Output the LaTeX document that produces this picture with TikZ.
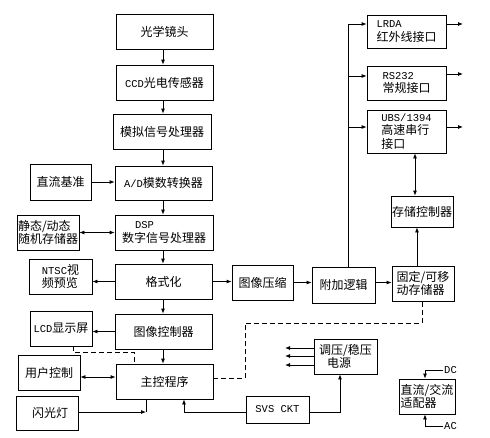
\documentclass[tikz,border=0pt]{standalone}
\usepackage{fontspec}
\setmainfont{Noto Sans CJK SC}
\newfontfamily\latfont{Liberation Mono}
\newcommand\mylat[1]{{\latfont\fontsize{10.5}{13.5}\selectfont #1}}
\usetikzlibrary{arrows.meta}
\begin{document}
\begin{tikzpicture}[x=1pt,y=-1pt,
  box/.style={draw, line width=0.8pt, inner sep=1pt, font=\fontsize{12}{13.5}\selectfont, align=center},
  lbox/.style={box, align=left},
  arr/.style={line width=0.8pt, -{Latex[length=5pt,width=4pt]}},
  biarr/.style={line width=0.8pt, {Latex[length=5pt,width=4pt]}-{Latex[length=5pt,width=4pt]}},
  ln/.style={line width=0.8pt},
  dsh/.style={line width=0.8pt, dash pattern=on 5pt off 3pt},
  lbl/.style={inner sep=1pt, font=\fontsize{10.5}{12}\selectfont\latfont}]
\useasboundingbox (0,0) rectangle (490,437);
% column nodes
\node[box, minimum width=97pt, minimum height=35pt] (lens) at (164.5,31.5) {光学镜头};
\node[box, minimum width=97pt, minimum height=35pt] (ccd) at (164.5,82.5) {\mylat{CCD}光电传感器};
\node[box, minimum width=98pt, minimum height=35pt] (analog) at (162,131.5) {模拟信号处理器};
\node[box, minimum width=61pt, minimum height=36pt] (dcref) at (60.5,182) {直流基准};
\node[box, minimum width=97pt, minimum height=34pt] (adc) at (163.5,183) {\mylat{A/D}模数转换器};
\node[lbox, minimum width=62pt, minimum height=35pt] (ram) at (48,232.5) {静态/动态\\随机存储器};
\node[lbox, minimum width=98pt, minimum height=35pt] (dsp) at (164,232.5) {\hspace*{13pt}\mylat{DSP}\\数字信号处理器};
\node[lbox, minimum width=63pt, minimum height=35pt] (ntsc) at (60.5,276.5) {\mylat{NTSC}视\\频预览};
\node[box, minimum width=97pt, minimum height=35pt] (fmt) at (163.5,281.5) {格式化};
\node[box, minimum width=61pt, minimum height=35pt] (comp) at (262.5,282.5) {图像压缩};
\node[box, minimum width=63pt, minimum height=36pt] (logic) at (343.5,285) {附加逻辑};
\node[lbox, minimum width=62pt, minimum height=35pt] (store) at (423,283.5) {固定/可移\\动存储器};
\node[box, minimum width=62pt, minimum height=31pt] (sctrl) at (422,211.5) {存储控制器};
\node[lbox, minimum width=79pt, minimum height=33pt] (irda) at (406.5,31.5) {\mylat{LRDA}\\红外线接口};
\node[lbox, minimum width=79pt, minimum height=34pt] (rs232) at (406.5,83) {\mylat{RS232}\\常规接口};
\node[lbox, minimum width=79pt, minimum height=43pt, inner sep=0pt] (usb) at (406.5,131.5) {\mylat{UBS/1394}\\高速串行\\接口};
\node[box, minimum width=97pt, minimum height=35pt] (imgctl) at (163.5,331.5) {图像控制器};
\node[box, minimum width=62pt, minimum height=35pt, inner sep=0pt] (lcd) at (61,328.5) {\mylat{LCD}显示屏};
\node[box, minimum width=62pt, minimum height=35pt] (user) at (49,372.5) {用户控制};
\node[box, minimum width=97pt, minimum height=35pt] (main) at (164.5,381.5) {主控程序};
\node[box, minimum width=62pt, minimum height=34pt] (flash) at (47,413) {\hspace*{6pt}闪光灯};
\node[box, minimum width=63pt, minimum height=27pt] (svs) at (277.5,409.5) {\mylat{SVS CKT}};
\node[lbox, minimum width=63pt, minimum height=35pt] (psu) at (345.5,356.5) {调压/稳压\\\hspace*{8pt}电源};
\node[lbox, minimum width=56pt, minimum height=35pt, inner sep=0pt] (adapt) at (427,396.5) {直流/交流\\适配器};
\node[lbl, anchor=west] (dc) at (443,370) {DC};
\node[lbl, anchor=west] (ac) at (443,426) {AC};
% helper coordinates
\coordinate (cx) at (163,0);
\coordinate (b1) at (348,24);
\coordinate (b2) at (348,76);
\coordinate (b3) at (348,127);
\coordinate (o1) at (463,24);
\coordinate (o2) at (463,74);
\coordinate (o3) at (463,127);
\coordinate (us) at (0,377);
\coordinate (fl) at (146,412);
\coordinate (s1) at (184,412);
\coordinate (s2) at (340,412);
\coordinate (sc) at (417,0);
\coordinate (uc) at (415,0);
\coordinate (dcx) at (425,370);
\coordinate (acx) at (425,426);
% main column
\draw[arr] (lens.south -| cx) -- (ccd.north -| cx);
\draw[arr] (ccd.south -| cx) -- (analog.north -| cx);
\draw[arr] (analog.south -| cx) -- (adc.north -| cx);
\draw[arr] (adc.south -| cx) -- (dsp.north -| cx);
\draw[arr] (dsp.south -| cx) -- (fmt.north -| cx);
\draw[arr] (fmt.south -| cx) -- (imgctl.north -| cx);
\draw[arr] (imgctl.south -| cx) -- (main.north -| cx);
% side connections
\draw[arr] (dcref) -- (dcref -| adc.west);
\draw[biarr] (ram) -- (ram -| dsp.west);
\draw[arr] (fmt) -- (fmt -| ntsc.east);
\draw[arr] (fmt) -- (fmt -| comp.west);
\draw[arr] (comp) -- (comp -| logic.west);
\draw[arr] (comp -| logic.east) -- (comp -| store.west);
\draw[arr] (store.north -| sc) -- (sctrl.south -| sc);
\draw[biarr] (usb.south -| uc) -- (sctrl.north -| uc);
\draw[arr] (imgctl) -- (imgctl -| lcd.east);
\draw[biarr] (user.east |- us) -- (main.west |- us);
% bus
\draw[ln] (logic.north -| b1) -- (b1);
\draw[arr] (b1) -- (b1 -| irda.west);
\draw[arr] (b2) -- (b2 -| rs232.west);
\draw[arr] (b3) -- (b3 -| usb.west);
\draw[arr] (o1 -| irda.east) -- (o1);
\draw[arr] (o2 -| rs232.east) -- (o2);
\draw[arr] (o3 -| usb.east) -- (o3);
% flash and svs
\draw[arr] (flash.east |- fl) -- (fl);
\draw[ln] (main.south -| fl) -- (fl);
\draw[arr] (svs.west |- s1) -- (s1) -- (s1 |- main.south);
\draw[arr] (svs.east |- s2) -- (s2) -- (s2 |- psu.south);
% power outputs
\foreach \yy in {348,356,365} {
  \draw[arr] (psu.west |- 0,\yy) -- (285,\yy);
}
% adapter
\draw[arr] (dc.west) -- (dcx) -- (dcx |- adapt.north);
\draw[arr] (ac.west) -- (acx) -- (acx |- adapt.south);
% dashed lines
\draw[dsh] (lcd.south -| 73,0) -- (73,352) -- (134,352) -- (main.north -| 134,0);
\draw[dsh] (main.east |- 0,378) -- (245,378) -- (245,323) -- (422,323) -- (store.south -| 422,0);
\end{tikzpicture}
\end{document}
